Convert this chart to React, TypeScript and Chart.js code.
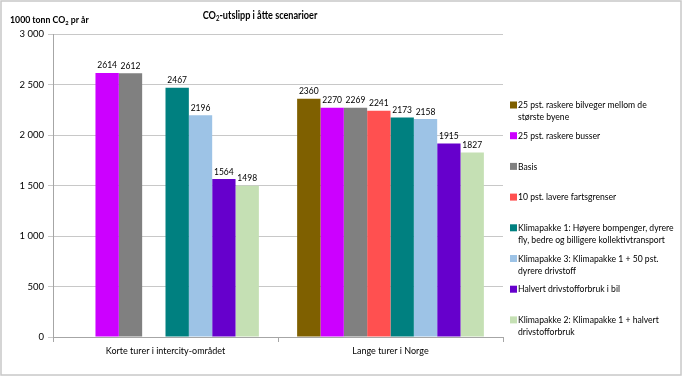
import React, { useEffect, useRef } from "react";
import { Chart, registerables } from "chart.js";

Chart.register(...registerables);

const categories = ["Korte turer i intercity-området", "Lange turer i Norge"];

const seriesNames = [
  "25 pst. raskere bilveger mellom de største byene",
  "25 pst. raskere busser",
  "Basis",
  "10 pst. lavere fartsgrenser",
  "Klimapakke 1: Høyere bompenger, dyrere fly, bedre og billigere kollektivtransport",
  "Klimapakke 3: Klimapakke 1 + 50 pst. dyrere drivstoff",
  "Halvert drivstofforbruk i bil",
  "Klimapakke 2: Klimapakke 1 + halvert drivstofforbruk",
];

const legendLines: string[][] = [
  ["25 pst. raskere bilveger mellom de", "største byene"],
  ["25 pst. raskere busser"],
  ["Basis"],
  ["10 pst. lavere fartsgrenser"],
  ["Klimapakke 1: Høyere bompenger, dyrere", "fly, bedre og billigere kollektivtransport"],
  ["Klimapakke 3: Klimapakke 1 + 50 pst.", "dyrere drivstoff"],
  ["Halvert drivstofforbruk i bil"],
  ["Klimapakke 2: Klimapakke 1 + halvert", "drivstofforbruk"],
];

const raskereBilveger = [null, 2360];
const raskereBusser = [2614, 2270];
const basis = [2612, 2269];
const lavereFart = [null, 2241];
const klimapakke1 = [2467, 2173];
const klimapakke3 = [2196, 2158];
const halvertDrivstoff = [1564, 1915];
const klimapakke2 = [1498, 1827];

const seriesValues = [
  raskereBilveger,
  raskereBusser,
  basis,
  lavereFart,
  klimapakke1,
  klimapakke3,
  halvertDrivstoff,
  klimapakke2,
];

const colors = [
  "#7F6000",
  "#CC00FF",
  "#808080",
  "#FF5050",
  "#008080",
  "#9DC3E6",
  "#6600CC",
  "#C5E0B4",
];

const yTicks = [0, 500, 1000, 1500, 2000, 2500, 3000];

const FONT = "Lato, 'Liberation Sans', sans-serif";

const fmt = (v: number) => {
  const s = String(Math.round(v));
  return s.replace(/\B(?=(\d{3})+(?!\d))/g, " ");
};

function drawSubText(
  ctx: CanvasRenderingContext2D,
  parts: { t: string; sub?: boolean }[],
  size: number,
  x: number,
  y: number,
  align: "left" | "center",
  sx: number
) {
  ctx.save();
  ctx.textBaseline = "middle";
  ctx.textAlign = "left";
  const widths = parts.map((p) => {
    ctx.font = `bold ${p.sub ? Math.round(size * 0.65) : size}px ${FONT}`;
    return ctx.measureText(p.t).width * sx;
  });
  const total = widths.reduce((a, b) => a + b, 0);
  let cx = align === "center" ? x - total / 2 : x;
  parts.forEach((p, i) => {
    ctx.font = `bold ${p.sub ? Math.round(size * 0.65) : size}px ${FONT}`;
    ctx.save();
    ctx.translate(cx, p.sub ? y + size * 0.3 : y);
    ctx.scale(sx, 1);
    ctx.fillText(p.t, 0, 0);
    ctx.restore();
    cx += widths[i];
  });
  ctx.restore();
}

const decorPlugin = {
  id: "decor",
  beforeDraw(chart: any) {
    const ctx = chart.ctx as CanvasRenderingContext2D;
    ctx.save();
    ctx.fillStyle = "#ffffff";
    ctx.fillRect(0, 0, chart.width, chart.height);
    ctx.strokeStyle = "#c8c8c8";
    ctx.lineWidth = 1.5;
    ctx.strokeRect(1, 1, chart.width - 2, chart.height - 2);
    ctx.restore();
  },
  afterDraw(chart: any) {
    const ctx = chart.ctx as CanvasRenderingContext2D;
    ctx.save();
    ctx.fillStyle = "#000";
    drawSubText(
      ctx,
      [{ t: "CO" }, { t: "2", sub: true }, { t: "-utslipp i åtte scenarioer" }],
      12,
      260,
      15,
      "center",
      0.76
    );
    drawSubText(
      ctx,
      [{ t: "1000 tonn CO" }, { t: "2", sub: true }, { t: " pr år" }],
      9,
      10,
      20,
      "left",
      0.97
    );
    // legend
    ctx.font = `10px ${FONT}`;
    ctx.textBaseline = "middle";
    ctx.textAlign = "left";
    const top = 105;
    const step = 30.7;
    legendLines.forEach((lines, i) => {
      const y = top + i * step;
      ctx.fillStyle = colors[i];
      ctx.fillRect(510, y - 3.5, 7, 7);
      ctx.fillStyle = "#000";
      lines.forEach((ln, j) => {
        ctx.save();
        ctx.translate(518, y + j * 12);
        ctx.scale(0.86, 1);
        ctx.fillText(ln, 0, 0);
        ctx.restore();
      });
    });
    ctx.restore();
  },
  afterDatasetsDraw(chart: any) {
    const ctx = chart.ctx as CanvasRenderingContext2D;
    ctx.save();
    ctx.font = `8.5px ${FONT}`;
    ctx.fillStyle = "#000";
    ctx.textAlign = "center";
    ctx.textBaseline = "bottom";
    chart.data.datasets.forEach((ds: any, di: number) => {
      const meta = chart.getDatasetMeta(di);
      meta.data.forEach((el: any, idx: number) => {
        const v = ds.data[idx];
        if (v === null || v === undefined) return;
        ctx.fillText(String(v), el.x, el.y - 3);
      });
    });
    ctx.restore();
  },
};

export default function App() {
  const ref = useRef<HTMLCanvasElement | null>(null);
  useEffect(() => {
    if (!ref.current) return;
    const chart = new Chart(ref.current, {
      type: "bar",
      data: {
        labels: categories,
        datasets: seriesValues.map((vals, i) => ({
          label: seriesNames[i],
          data: vals as any,
          backgroundColor: colors[i],
          borderWidth: 0,
          categoryPercentage: 0.83,
          barPercentage: 1,
        })),
      },
      options: {
        animation: false,
        responsive: false,
        maintainAspectRatio: false,
        devicePixelRatio: 1,
        layout: { padding: { top: 34, right: 179, left: 0, bottom: 0 } },
        plugins: {
          legend: { display: false },
          title: { display: false },
          tooltip: { enabled: false },
        },
        scales: {
          x: {
            offset: true,
            grid: {
              offset: true,
              display: true,
              drawOnChartArea: false,
              drawTicks: true,
              tickLength: 5,
              color: "#a6a6a6",
            },
            border: { color: "#a6a6a6" },
            ticks: {
              color: "#000",
              font: { family: FONT, size: 9 },
              padding: 4,
              maxRotation: 0,
            },
            afterFit: (s: any) => {
              s.height = 39;
            },
          },
          y: {
            min: 0,
            max: 3000,
            afterBuildTicks: (s: any) => {
              s.ticks = yTicks.map((v) => ({ value: v }));
            },
            grid: {
              color: "#c8c8c8",
              tickLength: 5,
            },
            border: { color: "#a6a6a6" },
            ticks: {
              color: "#000",
              font: { family: FONT, size: 9.5 },
              padding: 4,
              callback: (v: any) => fmt(Number(v)),
            },
            afterFit: (s: any) => {
              s.width = 53;
            },
          },
        },
      },
      plugins: [decorPlugin],
    } as any);
    return () => chart.destroy();
  }, []);
  return (
    <div style={{ position: "fixed", left: 0, top: 0, width: 682, height: 376 }}>
      <canvas ref={ref} width={682} height={376} style={{ width: 682, height: 376 }} />
    </div>
  );
}
